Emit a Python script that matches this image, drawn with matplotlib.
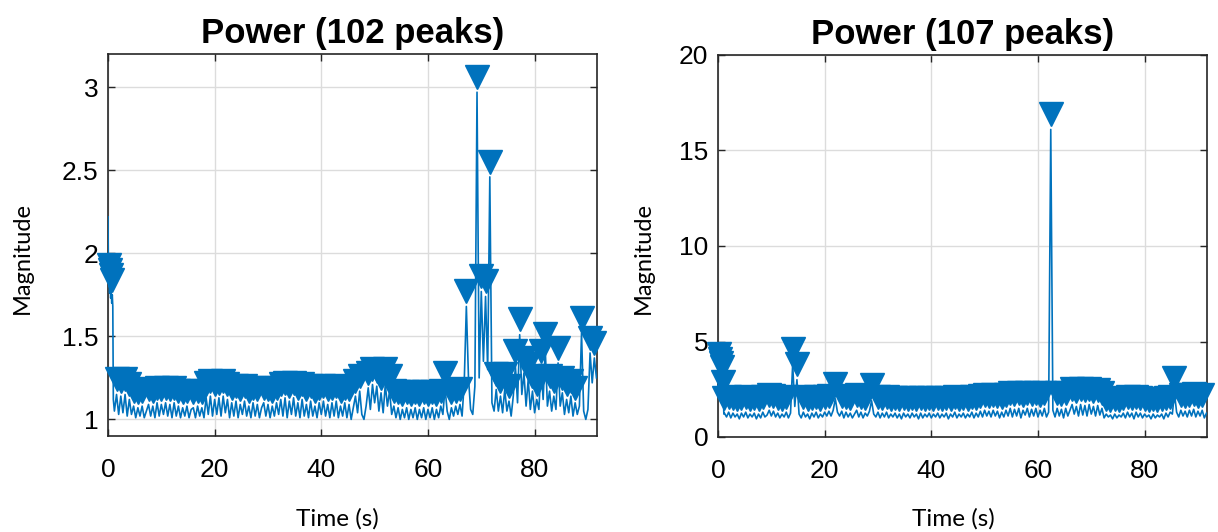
import matplotlib
matplotlib.use("Agg")
import matplotlib.pyplot as plt
import matplotlib.transforms as mtransforms
import numpy as np

BLUE = "#0072BD"

# ---- left panel: power signal (first 1.2 s sampled densely, then every 0.4 s)
left_start_t = [0.0, 0.1, 0.2, 0.3, 0.4, 0.5, 0.6, 0.7, 0.8, 0.9, 1.0]
left_start_y = [2.22, 1.80, 1.84, 1.76, 1.81, 1.73, 1.78, 1.70, 1.75, 1.68, 1.12]
left_main_t0 = 1.2
left_main_dt = 0.4
left_main_y = [
    1.05, 1.15, 1.03, 1.14, 1.04, 1.15, 1.02, 1.12, 1.03, 1.08, 1.01, 1.07, 1.02, 1.08, 1.01, 1.05, 1.09, 1.02, 1.08, 1.01, 1.10, 1.02, 1.09, 1.03, 1.10,
    1.02, 1.09, 1.01, 1.10, 1.02, 1.08, 1.01, 1.07, 1.02, 1.08, 1.01, 1.06, 1.07, 1.01, 1.08, 1.02, 1.07, 1.01, 1.13, 1.03, 1.14, 1.02, 1.12, 1.03, 1.13,
    1.02, 1.14, 1.04, 1.12, 1.01, 1.10, 1.02, 1.11, 1.01, 1.09, 1.03, 1.11, 1.02, 1.08, 1.01, 1.10, 1.02, 1.09, 1.01, 1.07, 1.10, 1.02, 1.09, 1.01, 1.08,
    1.02, 1.10, 1.03, 1.12, 1.02, 1.13, 1.01, 1.11, 1.03, 1.13, 1.02, 1.10, 1.01, 1.12, 1.02, 1.09, 1.01, 1.11, 1.02, 1.08, 1.01, 1.10, 1.03, 1.11, 1.02,
    1.09, 1.01, 1.10, 1.02, 1.11, 1.01, 1.08, 1.02, 1.10, 1.01, 1.09, 1.00, 1.07, 1.14, 1.04, 1.17, 1.03, 1.00, 1.08, 1.19, 1.06, 1.21, 1.10, 1.20, 1.05,
    1.16, 1.04, 1.21, 1.08, 1.17, 1.03, 1.08, 1.01, 1.07, 1.00, 1.06, 1.01, 1.07, 1.00, 1.06, 1.01, 1.07, 1.00, 1.06, 1.01, 1.07, 1.00, 1.06, 1.01, 1.07,
    1.00, 1.06, 1.01, 1.08, 1.03, 1.19, 1.05, 1.00, 1.07, 1.02, 1.08, 1.03, 1.09, 1.02, 1.22, 1.68, 1.25, 1.06, 1.03, 1.20, 2.97, 1.25, 1.77, 1.35, 1.74,
    1.30, 2.46, 1.10, 1.05, 1.18, 1.05, 1.14, 1.04, 1.18, 1.05, 1.11, 1.02, 1.14, 1.32, 1.10, 1.51, 1.15, 1.28, 1.08, 1.24, 1.06, 1.17, 1.04, 1.12, 1.06,
    1.32, 1.12, 1.42, 1.08, 1.17, 1.05, 1.14, 1.06, 1.34, 1.08, 1.16, 1.03, 1.12, 1.04, 1.14, 1.02, 1.10, 1.03, 1.08, 1.52, 1.05, 1.00, 1.06, 1.40, 1.22,
    1.37, 1.25,
]

# ---- right panel: power signal
right_start_t = [0.0, 0.1, 0.2, 0.3, 0.4, 0.5, 0.6, 0.7, 0.8, 0.9, 1.0, 1.1]
right_start_y = [3.4, 3.2, 3.55, 3.0, 3.3, 2.8, 3.05, 2.6, 2.85, 1.9, 2.1, 1.2]
right_main_t0 = 1.2
right_main_dt = 0.4
right_main_y = [
    1.25, 1.05, 1.30, 1.00, 1.25, 1.05, 1.20, 0.95, 1.25, 1.05, 1.30, 1.00, 1.20, 1.05, 1.25, 0.95, 1.20, 1.00, 1.30, 1.05, 1.15, 1.40, 1.10, 1.35, 1.05,
    1.25, 1.00, 1.20, 1.05, 1.30, 1.00, 1.25, 3.80, 1.60, 3.00, 1.20, 1.00, 1.30, 1.05, 1.20, 0.95, 1.25, 1.05, 1.30, 1.00, 1.20, 1.05, 1.30, 1.10, 1.35,
    1.10, 1.40, 2.00, 1.30, 1.10, 1.35, 1.00, 1.30, 1.05, 1.25, 1.00, 1.20, 1.40, 1.05, 1.30, 1.00, 1.25, 1.10, 1.35, 1.90, 1.20, 1.05, 1.30, 1.00, 1.25,
    1.05, 1.30, 1.00, 1.20, 1.05, 1.25, 1.00, 1.20, 0.95, 1.25, 1.05, 1.20, 1.00, 1.25, 1.05, 1.20, 0.95, 1.25, 1.00, 1.20, 1.05, 1.25, 1.00, 1.20, 1.05,
    1.25, 1.00, 1.20, 1.05, 1.25, 0.95, 1.20, 1.05, 1.30, 1.00, 1.20, 1.05, 1.25, 1.00, 1.20, 1.05, 1.30, 1.00, 1.25, 1.05, 1.35, 1.05, 1.40, 1.10, 1.35,
    1.05, 1.40, 1.10, 1.35, 1.00, 1.30, 1.05, 1.40, 1.10, 1.50, 1.05, 1.45, 1.10, 1.50, 1.00, 1.40, 1.15, 1.50, 1.05, 1.45, 1.10, 1.50, 1.05, 1.40, 1.10,
    1.50, 1.05, 1.30, 16.10, 1.40, 1.05, 1.50, 1.10, 1.45, 1.00, 1.50, 1.10, 1.40, 1.70, 1.20, 1.60, 1.10, 1.70, 1.15, 1.65, 1.10, 1.70, 1.20, 1.60, 1.10,
    1.65, 1.15, 1.50, 1.00, 1.20, 1.05, 1.15, 0.95, 1.20, 1.00, 1.15, 1.05, 1.25, 1.00, 1.30, 1.05, 1.25, 0.95, 1.30, 1.05, 1.25, 1.00, 1.20, 1.05, 1.15,
    0.95, 1.20, 1.00, 1.15, 1.05, 1.20, 0.95, 1.25, 1.05, 1.30, 1.20, 2.30, 1.30, 1.05, 1.40, 1.10, 1.35, 1.05, 1.40, 1.10, 1.45, 1.05, 1.35, 1.10, 1.40,
    1.00, 1.25,
]

titles = ["Power (102 peaks)", "Power (107 peaks)"]
x_ticks = [0, 20, 40, 60, 80]
left_y_ticks = [1, 1.5, 2, 2.5, 3]
left_y_labels = ["1", "1.5", "2", "2.5", "3"]
right_y_ticks = [0, 5, 10, 15, 20]


def build_signal(start_t, start_y, t0, dt, main_y):
    t = np.concatenate([start_t, t0 + dt * np.arange(len(main_y))])
    y = np.concatenate([start_y, main_y])
    return t, y


def find_peaks(y):
    idx = [i for i in range(1, len(y) - 1) if y[i] > y[i - 1] and y[i] >= y[i + 1]]
    return np.array(idx)


plt.rcParams["font.family"] = ["Liberation Sans", "DejaVu Sans"]

fig = plt.figure(figsize=(12.18, 5.32), dpi=100)
ax1 = fig.add_axes([108 / 1218, 96 / 532, 489 / 1218, 382 / 532])
ax2 = fig.add_axes([718 / 1218, 95 / 532, 489 / 1218, 382 / 532])

panels = [
    (ax1, build_signal(left_start_t, left_start_y, left_main_t0, left_main_dt, left_main_y),
     (0.9, 3.2), left_y_ticks, left_y_labels, titles[0]),
    (ax2, build_signal(right_start_t, right_start_y, right_main_t0, right_main_dt, right_main_y),
     (0, 20), right_y_ticks, [str(v) for v in right_y_ticks], titles[1]),
]

for ax, (t, y), ylim, yticks, ylabels, title in panels:
    ax.plot(t, y, color=BLUE, lw=1.2, zorder=3)
    pk = find_peaks(y)
    # findpeaks-style markers: tip just above each peak
    trans = mtransforms.offset_copy(ax.transData, fig=fig, x=0, y=11, units="points")
    ax.plot(t[pk], y[pk], linestyle="none", marker="v", markersize=17,
            color=BLUE, markeredgecolor=BLUE, transform=trans, clip_on=False, zorder=4)

    ax.set_xlim(0, 91.7)
    ax.set_ylim(*ylim)
    ax.set_xticks(x_ticks)
    ax.set_yticks(yticks)
    ax.set_yticklabels(ylabels)
    ax.grid(True, color="#dcdcdc", lw=1.0)
    ax.set_axisbelow(True)
    ax.tick_params(direction="in", length=5, width=1, color="#262626",
                   top=True, right=True, labelsize=19, pad=7)
    ax.tick_params(axis="x", pad=16)
    for s in ax.spines.values():
        s.set_color("#262626")
        s.set_linewidth(1.2)
    ax.set_title(title, fontsize=25, fontweight="bold", pad=8)

label_font = ["Lato", "DejaVu Sans"]
fig.text(337 / 1218, 1 - 519 / 532, "Time (s)", fontsize=17.5, family=label_font,
         ha="center", va="center")
fig.text(953 / 1218, 1 - 519 / 532, "Time (s)", fontsize=17.5, family=label_font,
         ha="center", va="center")
fig.text(22 / 1218, 1 - 258 / 532, "Magnitude", fontsize=17, family=label_font,
         ha="center", va="center", rotation=90)
fig.text(643 / 1218, 1 - 258 / 532, "Magnitude", fontsize=17, family=label_font,
         ha="center", va="center", rotation=90)

fig.savefig("out.png", dpi=100)
